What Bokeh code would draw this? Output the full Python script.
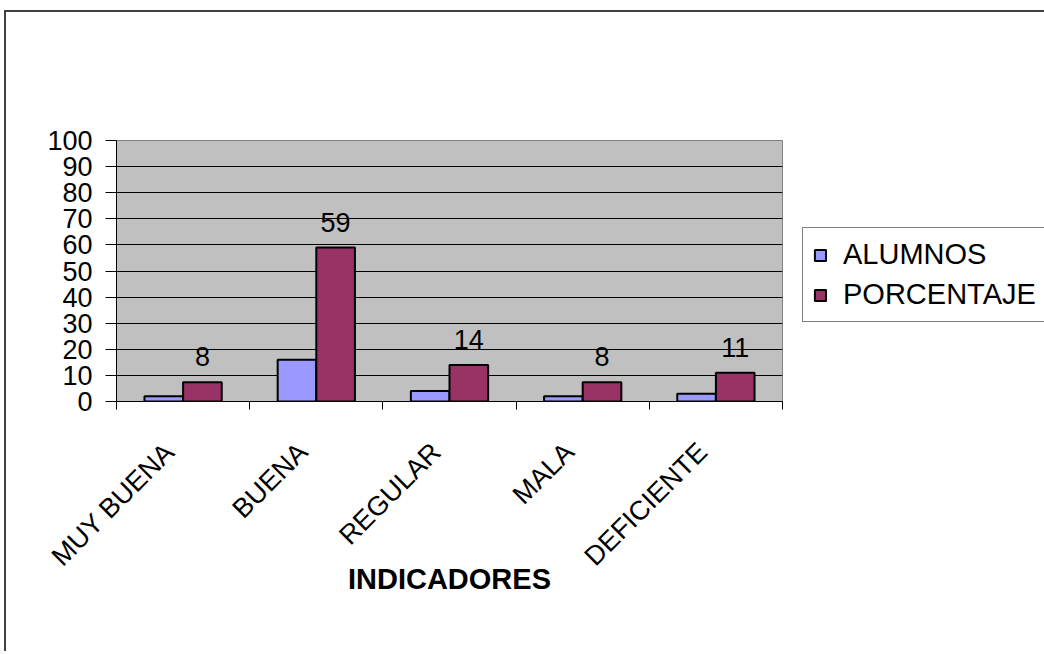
import numpy as np
from bokeh.plotting import figure
from bokeh.models import (ColumnDataSource, Range1d, FixedTicker, LabelSet,
                          Legend, LegendItem)
from bokeh.transform import dodge
from bokeh.core.properties import value
from bokeh.embed import file_html
from bokeh.resources import INLINE

categories = ["MUY BUENA", "BUENA", "REGULAR", "MALA", "DEFICIENTE"]
alumnos = [2, 16, 4, 2, 3]
porcentaje = [7.4, 59, 14, 7.4, 11]
porcentaje_labels = ["8", "59", "14", "8", "11"]
y_ticks = list(range(0, 101, 10))

FONT = "Liberation Sans"
x_centers = np.arange(len(categories)) + 0.5
label_pos = x_centers - 0.1

src = ColumnDataSource(dict(x=x_centers, cat=categories, alumnos=alumnos,
                            porc=porcentaje, lab=porcentaje_labels))

p = figure(frame_width=666, frame_height=261, output_backend="svg", toolbar_location=None,
           x_range=Range1d(0, len(categories)), y_range=Range1d(0, 100),
           min_border_left=110, min_border_top=128, min_border_right=0,
           min_border_bottom=250)
p.styles = {"margin-left": "4px", "margin-top": "10px",
            "border-top": "2px solid #404040", "border-left": "2px solid #404040"}

p.background_fill_color = "#C0C0C0"
p.border_fill_color = "white"
p.outline_line_color = "#808080"
p.outline_line_width = 1

bar_w = 0.29
r1 = p.vbar(x=dodge("x", -0.145), top="alumnos", width=bar_w, source=src,
            fill_color="#9999FF", line_color="black", line_width=2)
r2 = p.vbar(x=dodge("x", 0.145), top="porc", width=bar_w, source=src,
            fill_color="#993366", line_color="black", line_width=2)

labels = LabelSet(x=dodge("x", 0.145), y="porc", text="lab", source=src,
                  y_offset=16, text_align="center", text_baseline="bottom",
                  text_font=value(FONT), text_font_size="27px", text_color="black")
p.add_layout(labels)

# grid
p.xgrid.visible = False
p.ygrid.grid_line_color = "black"
p.ygrid.grid_line_width = 1
p.ygrid.ticker = FixedTicker(ticks=y_ticks)

# y axis
p.yaxis.ticker = FixedTicker(ticks=y_ticks)
p.yaxis.major_tick_out = 11
p.yaxis.major_tick_in = 0
p.yaxis.minor_tick_out = 0
p.yaxis.minor_tick_in = 0
p.yaxis.axis_line_color = "black"
p.yaxis.major_tick_line_color = "black"
p.yaxis.major_label_text_font = FONT
p.yaxis.major_label_text_font_size = "27px"
p.yaxis.major_label_text_color = "black"
p.yaxis.major_label_standoff = 13

# x axis: labels near centers, tick marks at boundaries
p.xaxis.ticker = FixedTicker(ticks=list(label_pos),
                             minor_ticks=list(range(len(categories) + 1)))
p.xaxis.major_label_overrides = {float(c): n for c, n in zip(label_pos, categories)}
p.xaxis.major_tick_out = 0
p.xaxis.major_tick_in = 0
p.xaxis.minor_tick_out = 8
p.xaxis.minor_tick_in = 0
p.xaxis.minor_tick_line_color = "black"
p.xaxis.axis_line_color = "black"
p.xaxis.major_label_orientation = np.pi / 4
p.xaxis.major_label_text_font = FONT
p.xaxis.major_label_text_font_size = "27px"
p.xaxis.major_label_text_color = "black"
p.xaxis.major_label_standoff = 38
p.xaxis.axis_label = "INDICADORES"
p.xaxis.axis_label_text_font = FONT
p.xaxis.axis_label_text_font_size = "29px"
p.xaxis.axis_label_text_font_style = "bold"
p.xaxis.axis_label_text_color = "black"
p.xaxis.axis_label_standoff = -22

legend = Legend(items=[LegendItem(label="ALUMNOS", renderers=[r1]),
                       LegendItem(label="PORCENTAJE", renderers=[r2])],
                location=(20, 79), margin=20, padding=10, spacing=7,
                glyph_width=14, glyph_height=14, label_standoff=16,
                label_text_font=FONT, label_text_font_size="29px",
                label_text_color="black",
                border_line_color="black", border_line_width=1,
                background_fill_color="white")
p.add_layout(legend, "right")

open("out.html", "w").write(file_html(p, INLINE))
